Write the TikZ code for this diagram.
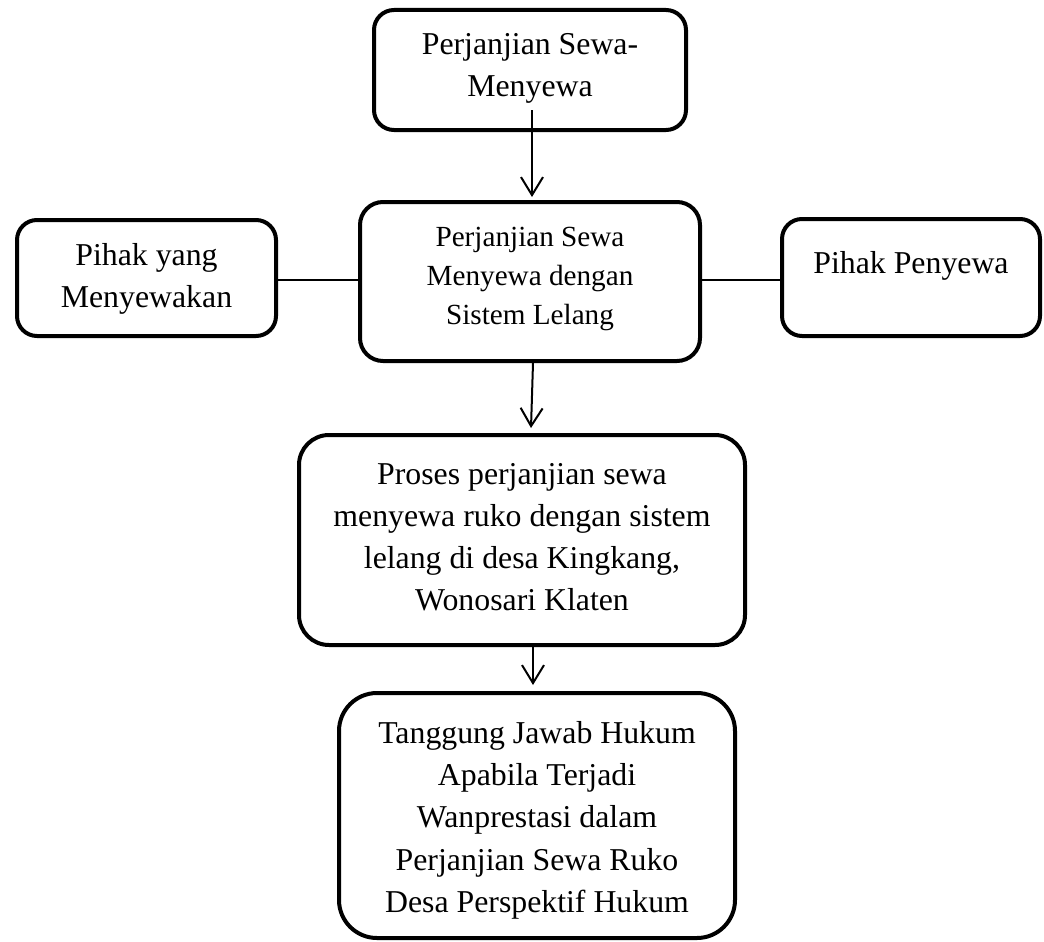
\documentclass[tikz,border=0pt]{standalone}
\usepackage{fontspec}
\setmainfont{Liberation Serif}
\usetikzlibrary{arrows.meta,calc}
\begin{document}
\begin{tikzpicture}[x=1pt,y=-1pt,
  box/.style={draw=black,line width=4pt,rectangle,inner sep=0pt},
  txt/.style={align=center,inner sep=0pt,font=\fontsize{31.8}{42}\selectfont},
  txtsmall/.style={align=center,inner sep=0pt,font=\fontsize{29.2}{39}\selectfont},
  conn/.style={line width=2pt},
  arr/.style={line width=2pt,-{Straight Barb[length=18pt,width=22pt,line width=2pt]}}]
\useasboundingbox[fill=white] (0,0) rectangle (1044,942);
% boxes
\node[box,rounded corners=20pt,minimum width=312pt,minimum height=120pt] (b1) at (530,70) {};
\node[box,rounded corners=23pt,minimum width=340pt,minimum height=159pt] (b2) at (530,281.5) {};
\node[box,rounded corners=20pt,minimum width=259pt,minimum height=116pt] (bl) at (146.5,278) {};
\node[box,rounded corners=20pt,minimum width=258pt,minimum height=117pt] (br) at (911,277.5) {};
\node[box,rounded corners=30pt,minimum width=446pt,minimum height=210pt] (b3) at (522,540) {};
\node[box,rounded corners=38pt,minimum width=396pt,minimum height=245pt] (b4) at (537,815.5) {};
% texts
\node[txt] (t1) at (530,68.6) {Perjanjian Sewa-\\Menyewa};
\node[txtsmall] (t2) at (530,279.2) {Perjanjian Sewa\\Menyewa dengan\\Sistem Lelang};
\node[txt] (tl) at (146.5,278.6) {Pihak yang\\Menyewakan};
\node[txt] (tr) at (911,265.6) {Pihak Penyewa};
\node[txt] (t3) at (522,537.1) {Proses perjanjian sewa\\menyewa ruko dengan sistem\\lelang di desa Kingkang,\\Wonosari Klaten};
\node[txt,font=\fontsize{31.8}{42.25}\selectfont] (t4) at (537,820.1) {Tanggung Jawab Hukum\\Apabila Terjadi\\Wanprestasi dalam\\Perjanjian Sewa Ruko\\Desa Perspektif Hukum};
% connectors
\coordinate (c1) at (532,110);
\draw[arr] (c1) -- ([yshift=3pt]c1 |- b2.north);
\draw[arr] ([xshift=3pt]b2.south) -- ([xshift=9pt,yshift=5pt]b3.north);
\draw[arr] ([xshift=11pt]b3.south) -- ([xshift=-4pt,yshift=6pt]b4.north);
\draw[conn] ([yshift=-2pt]bl.east) -- ([yshift=-2pt]bl.east -| b2.west);
\draw[conn] ([yshift=-2.5pt]br.west) -- ([yshift=-2.5pt]br.west -| b2.east);
\end{tikzpicture}
\end{document}
